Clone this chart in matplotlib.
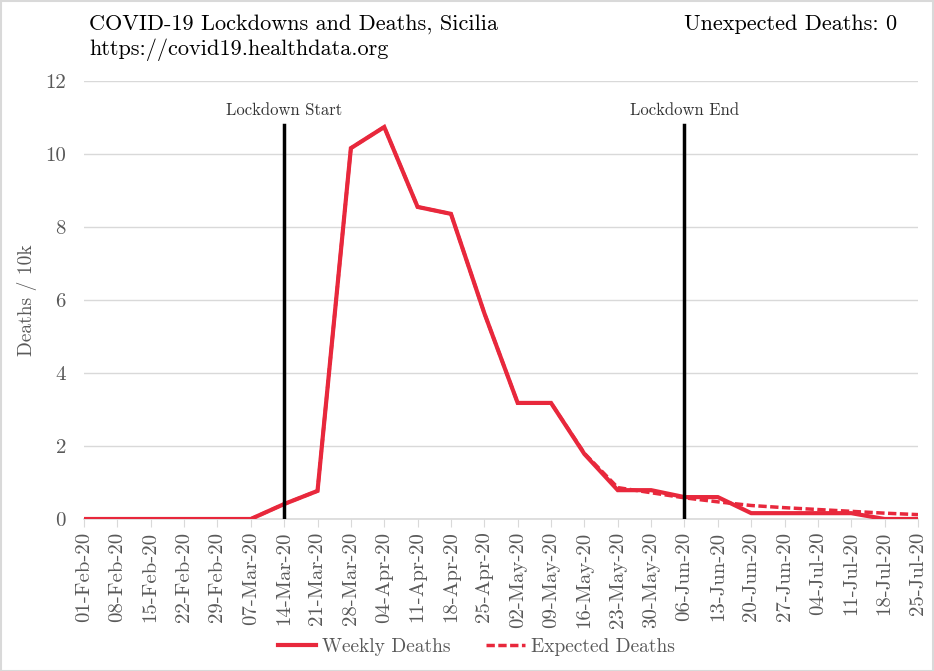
import matplotlib
matplotlib.use("Agg")
import matplotlib.pyplot as plt
from matplotlib.patches import Rectangle

dates = ["01-Feb-20", "08-Feb-20", "15-Feb-20", "22-Feb-20", "29-Feb-20", "07-Mar-20",
         "14-Mar-20", "21-Mar-20", "28-Mar-20", "04-Apr-20", "11-Apr-20", "18-Apr-20",
         "25-Apr-20", "02-May-20", "09-May-20", "16-May-20", "23-May-20", "30-May-20",
         "06-Jun-20", "13-Jun-20", "20-Jun-20", "27-Jun-20", "04-Jul-20", "11-Jul-20",
         "18-Jul-20", "25-Jul-20"]
weekly = [0, 0, 0, 0, 0, 0, 0.41, 0.77, 10.16, 10.74, 8.55, 8.36, 5.64, 3.18, 3.18,
          1.78, 0.79, 0.79, 0.60, 0.60, 0.16, 0.16, 0.16, 0.16, 0, 0]
expected = [0, 0, 0, 0, 0, 0, 0.41, 0.77, 10.16, 10.74, 8.55, 8.36, 5.64, 3.18, 3.18,
            1.80, 0.86, 0.72, 0.58, 0.47, 0.37, 0.31, 0.26, 0.21, 0.16, 0.12]
lockdown_start = "14-Mar-20"
lockdown_end = "06-Jun-20"
yticks = [0, 2, 4, 6, 8, 10, 12]

FONT = ["cmr10", "DejaVu Serif"]
plt.rcParams['font.family'] = FONT
plt.rcParams['axes.formatter.use_mathtext'] = True
TXT = "#595959"
RED = "#e8283c"

fig = plt.figure(figsize=(9.34, 6.71), dpi=100)
W, H = 934, 671
ax = fig.add_axes([84 / W, 1 - 519 / H, (918 - 84) / W, (519 - 81) / H])

x = list(range(len(dates)))
ax.plot(x, weekly, color=RED, lw=3, solid_joinstyle="miter", label="Weekly Deaths", zorder=4)
ax.plot(x, expected, color=RED, lw=2.5, ls=(0, (2.4, 1.0)), label="Expected Deaths", zorder=3)

for d, lab in [(lockdown_start, "Lockdown Start"), (lockdown_end, "Lockdown End")]:
    xi = dates.index(d)
    ax.plot([xi, xi], [0, 10.8], color="black", lw=2.5, zorder=5)
    ax.text(xi, 11.2, lab, ha="center", va="center", fontsize=12, color="#333333")

ax.set_xlim(0, len(dates) - 1)
ax.set_ylim(0, 12)
ax.set_yticks(yticks)
ax.set_yticklabels([str(v) for v in yticks], fontsize=15, color=TXT)
ax.set_xticks(x)
ax.set_xticklabels(dates, rotation=90, fontsize=15, color=TXT)
ax.grid(axis="y", color="#d9d9d9", lw=1)
ax.set_axisbelow(True)
for s in ["top", "right", "left"]:
    ax.spines[s].set_visible(False)
ax.spines["bottom"].set_color("#d9d9d9")
ax.spines["bottom"].set_linewidth(1.2)
ax.tick_params(axis="y", length=0, pad=13)
ax.tick_params(axis="x", length=6, color="#d9d9d9", pad=3)
ax.set_ylabel("Deaths / 10k", fontsize=14, color=TXT, labelpad=6)

fig.text(89 / W, 1 - 24 / H, "COVID-19 Lockdowns and Deaths, Sicilia", fontsize=16,
         color="black", va="center", ha="left")
fig.text(89 / W, 1 - 50 / H, "https://covid19.healthdata.org", fontsize=16,
         color="black", va="center", ha="left")
fig.text(897 / W, 1 - 24 / H, "Unexpected Deaths: 0", fontsize=16,
         color="black", va="center", ha="right")

leg = fig.legend(loc="center", bbox_to_anchor=(476 / W, 1 - 647 / H), ncol=2,
                 frameon=False, fontsize=14, handlelength=2.0, handletextpad=0.3,
                 columnspacing=1.8)
for t in leg.get_texts():
    t.set_color(TXT)

fig.patches.append(Rectangle((0.5 / W, 0.5 / H), 1 - 1.5 / W, 1 - 1.5 / H, transform=fig.transFigure,
                             fill=False, edgecolor="#d9d9d9", lw=1.5))

fig.savefig("out.png", dpi=100)
